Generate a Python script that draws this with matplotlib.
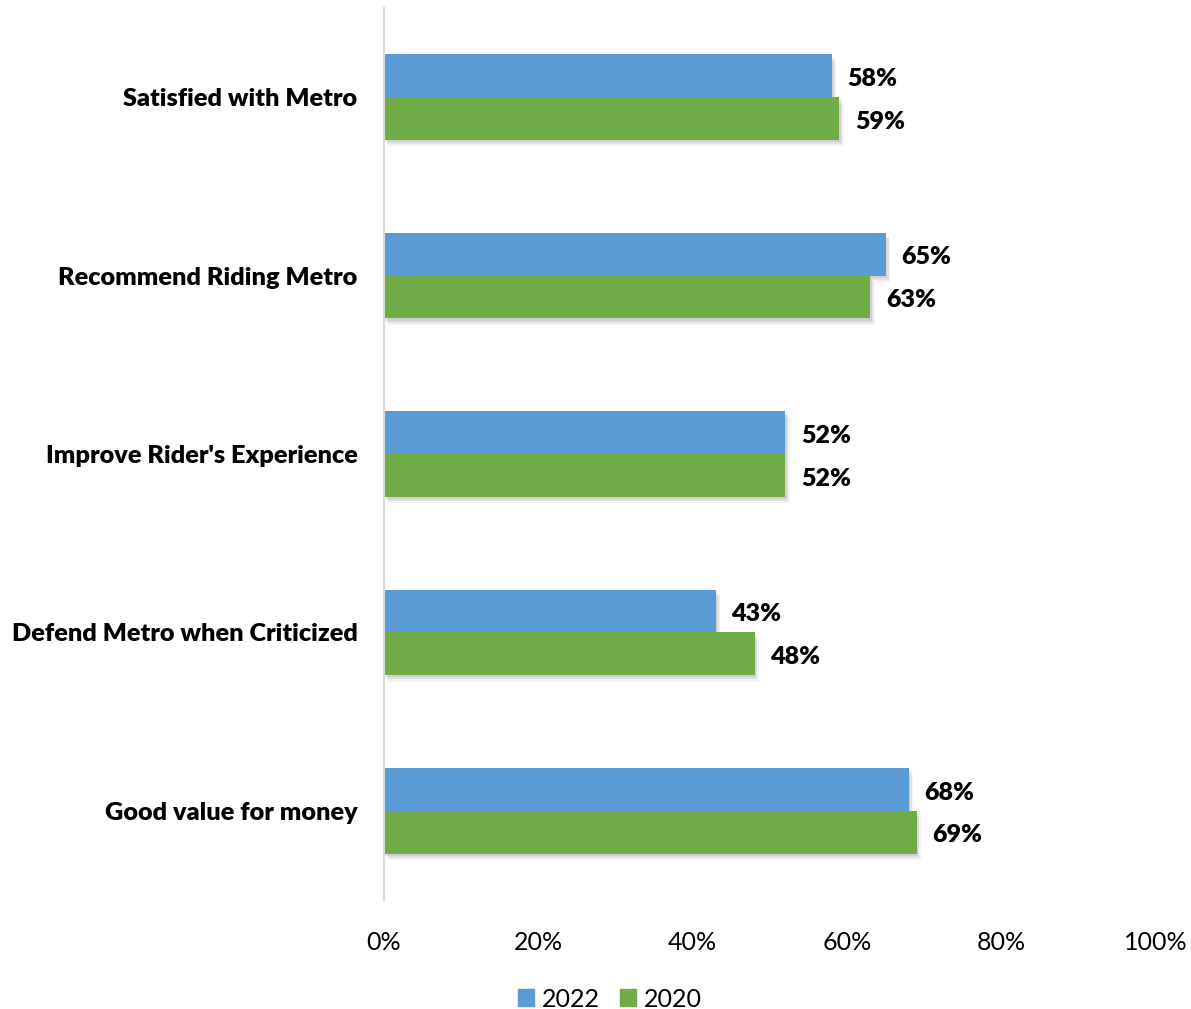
import numpy as np
import matplotlib.pyplot as plt
import matplotlib.patheffects as pe
from matplotlib.patches import Patch

categories = ['Satisfied with Metro', 'Recommend Riding Metro',
              "Improve Rider's Experience", 'Defend Metro when Criticized',
              'Good value for money']
values_2022 = [58, 65, 52, 43, 68]
values_2020 = [59, 63, 52, 48, 69]
series_labels = ['2022', '2020']
tick_values = [0, 20, 40, 60, 80, 100]
colors = ['#5B9BD5', '#70AD47']

plt.rcParams['font.family'] = ['Lato', 'DejaVu Sans']

fig = plt.figure(figsize=(11.91, 10.09), dpi=100)
ax = fig.add_axes([0.3224, 0.108, 0.6482, 0.884])

y = np.arange(len(categories))
h = 0.24
# soft drop shadow built from a few faint offset copies
shadow = [pe.SimplePatchShadow(offset=(1, -1.5), shadow_rgbFace='#606060', alpha=0.12),
          pe.SimplePatchShadow(offset=(2, -3), shadow_rgbFace='#606060', alpha=0.12),
          pe.SimplePatchShadow(offset=(3, -4.5), shadow_rgbFace='#606060', alpha=0.08),
          pe.Normal()]
b1 = ax.barh(y - h / 2, values_2022, height=h, color=colors[0])
b2 = ax.barh(y + h / 2, values_2020, height=h, color=colors[1])
for bars in (b1, b2):
    for p in bars:
        p.set_path_effects(shadow)

# data labels
for bars, vals in ((b1, values_2022), (b2, values_2020)):
    for p, v in zip(bars, vals):
        ax.text(v + 2.0, p.get_y() + p.get_height() / 2 + 0.018, f'{v}%', va='center', ha='left',
                fontsize=18, fontweight='heavy', color='black')

ax.set_ylim(len(categories) - 0.5, -0.5)
ax.set_xlim(0, 100)
ax.set_yticks(y)
ax.set_yticklabels(categories, fontsize=18.2, fontweight='heavy')
ax.set_xticks(tick_values)
ax.set_xticklabels([f'{t}%' for t in tick_values], fontsize=18)
ax.tick_params(axis='both', length=0)
ax.tick_params(axis='y', pad=19)
ax.tick_params(axis='x', pad=22)

for s in ('top', 'right', 'bottom'):
    ax.spines[s].set_visible(False)
ax.spines['left'].set_color('#D9D9D9')
ax.spines['left'].set_linewidth(1.5)

handles = [Patch(color=c, label=l) for c, l in zip(colors, series_labels)]
ax.legend(handles=handles, loc='center', bbox_to_anchor=((610 - 384) / 772, -0.111), ncol=2,
          frameon=False, fontsize=18, handlelength=0.65, handleheight=0.65,
          handletextpad=0.3, columnspacing=0.8)

plt.savefig('out.png', dpi=100)
